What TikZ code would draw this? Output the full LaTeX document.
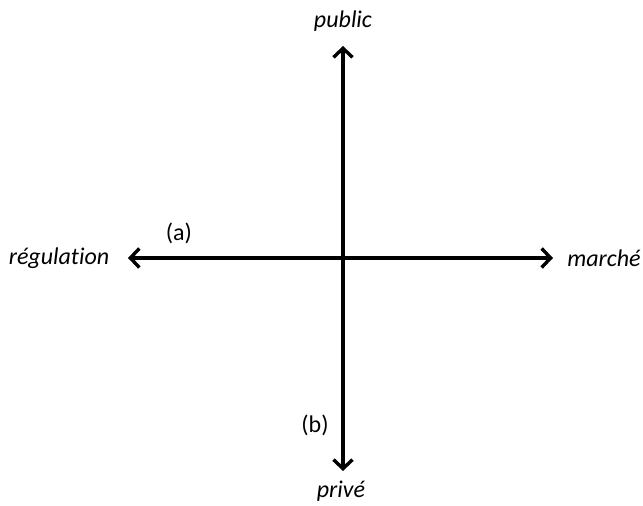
\documentclass[tikz,border=0pt]{standalone}
\usepackage{fontspec}
\setmainfont{Carlito}[Ligatures=NoCommon]
\usetikzlibrary{arrows.meta}

\begin{document}
\begin{tikzpicture}[x=0.5pt,y=-0.5pt,font=\fontsize{12}{14}\selectfont,
  axis/.style={line width=1.7pt,{Straight Barb[length=4.5pt,width=9.5pt]}-{Straight Barb[length=4.5pt,width=9.5pt]}},
  pole/.style={font=\fontsize{12}{14}\selectfont\itshape,inner sep=0pt}]
\useasboundingbox (0,0) rectangle (643,506);
\coordinate (top) at (343,46);
\coordinate (bottom) at (343,471);
\coordinate (left) at (128,258);
\coordinate (right) at (553,258);
\draw[axis] (left)--(right);
\draw[axis] (top)--(bottom);
\node[pole] (public) at (343,21){public};
\node[pole] (prive) at (341,491){privé};
\node[pole] (regulation) at (59,258){régulation};
\node[pole] (marche) at (604,258){marché};
\node[inner sep=0pt] (a) at (179,233){(a)};
\node[inner sep=0pt] (b) at (315,425){(b)};
\end{tikzpicture}
\end{document}
